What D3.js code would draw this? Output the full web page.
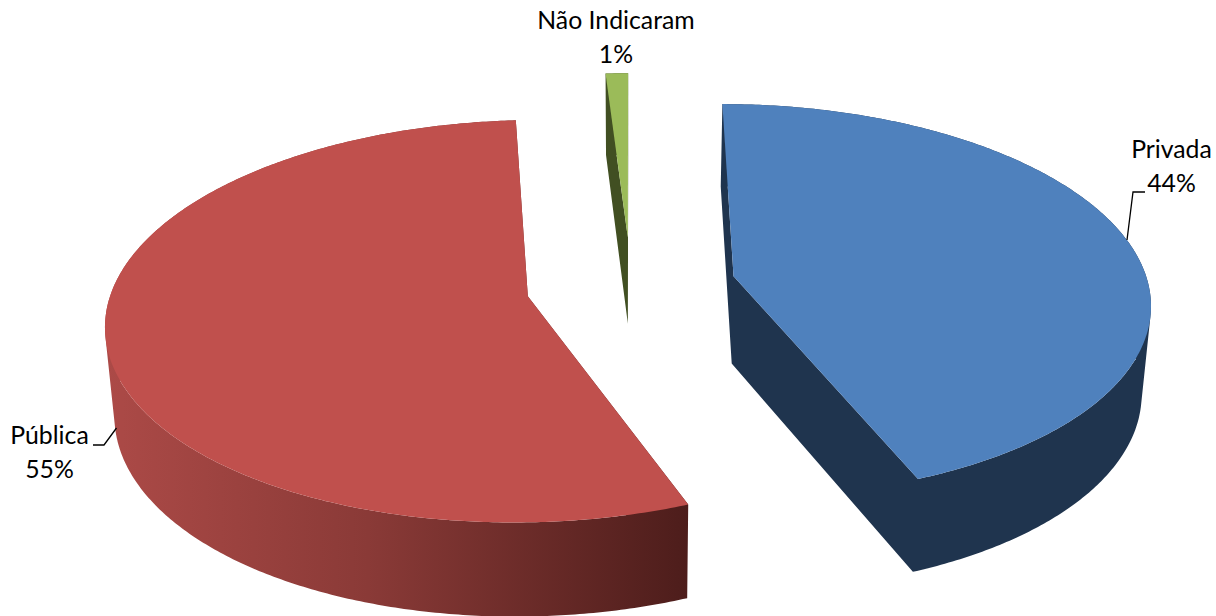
<!DOCTYPE html>
<html>
<head>
<meta charset="utf-8">
<script src="https://cdn.jsdelivr.net/npm/d3@7"></script>
<style>
  html, body { margin: 0; padding: 0; background: #fff; overflow: hidden; }
  text { font-family: Lato, "Open Sans", sans-serif; font-size: 24.8px; fill: #000; }
</style>
</head>
<body>
<svg id="chart" width="1216" height="616"></svg>
<script>
let categories = ['Privada', 'Pública', 'Não Indicaram'];
let values = [44, 55, 1];

let topColors = ['#4F81BD', '#C0504D', '#9BBB59'];
let wallColors = ['#1F344E', 'url(#redWall)', '#414F22'];

let w = 1216;
let h = 616;
let cx = 631;
let cy = 285.5;
let radius = 415;
let explode = 105;

// tilt and perspective of the pie plane
let tilt = 0.471;
let persp = 0.000296;

let svg = d3.select('#chart');

let defs = svg.append('defs');
let grad = defs.append('linearGradient')
    .attr('id', 'redWall')
    .attr('gradientUnits', 'userSpaceOnUse')
    .attr('x1', 106).attr('x2', 688)
    .attr('y1', 0).attr('y2', 0);
grad.append('stop').attr('offset', 0).attr('stop-color', '#AC4A47');
grad.append('stop').attr('offset', 0.45).attr('stop-color', '#8A3A37');
grad.append('stop').attr('offset', 1).attr('stop-color', '#4D1D1B');

let pie = d3.pie().sort(null);
let slices = pie(values);

let projectTop = (u, v) => {
    let f = 1 / (1 - persp * v);
    return [cx + u * f, cy + v * tilt * f];
};

// the underside: narrower in x, slightly longer in y, pushed down
let toBottom = p => [cx + (p[0] - cx) * 0.982, cy + (p[1] - cy) * 1.028 + 87.5];

let line = d3.line();

// all quads wound the same way, so overlaps in one path do not cancel out
let quadPath = q => {
    let pts = d3.polygonArea(q) < 0 ? q.slice().reverse() : q;
    return line(pts) + 'Z';
};

let drawSlice = (d, i) => {
    let mid = (d.startAngle + d.endAngle) / 2;
    let ou = explode * Math.sin(mid);
    let ov = -explode * Math.cos(mid);

    let steps = Math.max(2, Math.ceil((d.endAngle - d.startAngle) / 0.01));
    let arcTop = d3.range(steps + 1).map(k => {
        let a = d.startAngle + (d.endAngle - d.startAngle) * k / steps;
        return projectTop(ou + radius * Math.sin(a), ov - radius * Math.cos(a));
    });
    let apexTop = projectTop(ou, ov);
    let arcBottom = arcTop.map(toBottom);
    let apexBottom = toBottom(apexTop);

    let g = svg.append('g').attr('class', 'slice');

    // walls first, the top face paints over whatever is hidden
    let quads = [
        [apexTop, arcTop[0], arcBottom[0], apexBottom],
        [apexTop, arcTop[steps], arcBottom[steps], apexBottom]
    ];
    d3.range(steps).forEach(k => {
        quads.push([arcTop[k], arcTop[k + 1], arcBottom[k + 1], arcBottom[k]]);
    });

    g.append('path')
        .attr('d', quads.map(quadPath).join(''))
        .attr('fill', wallColors[i]);

    g.append('path')
        .attr('d', line([apexTop].concat(arcTop)) + 'Z')
        .attr('fill', topColors[i]);
};

slices.forEach(drawSlice);

let labels = [
    { x: 1171.5, y: 158, i: 0 },
    { x: 49.5, y: 444, i: 1 },
    { x: 616, y: 29, i: 2 }
];

labels.forEach(l => {
    let t = svg.append('text')
        .attr('text-anchor', 'middle')
        .attr('x', l.x)
        .attr('y', l.y);
    t.append('tspan').attr('x', l.x).text(categories[l.i]);
    t.append('tspan').attr('x', l.x).attr('dy', 34).text(values[l.i] + '%');
});

let leaders = [
    [[1127, 240], [1133, 192], [1145, 192]],
    [[116.5, 428], [104, 445], [93, 445]]
];

svg.selectAll('.leader')
    .data(leaders)
    .enter()
    .append('path')
    .attr('class', 'leader')
    .attr('d', d => line(d))
    .attr('fill', 'none')
    .attr('stroke', '#000')
    .attr('stroke-width', 1.3);
</script>
</body>
</html>
